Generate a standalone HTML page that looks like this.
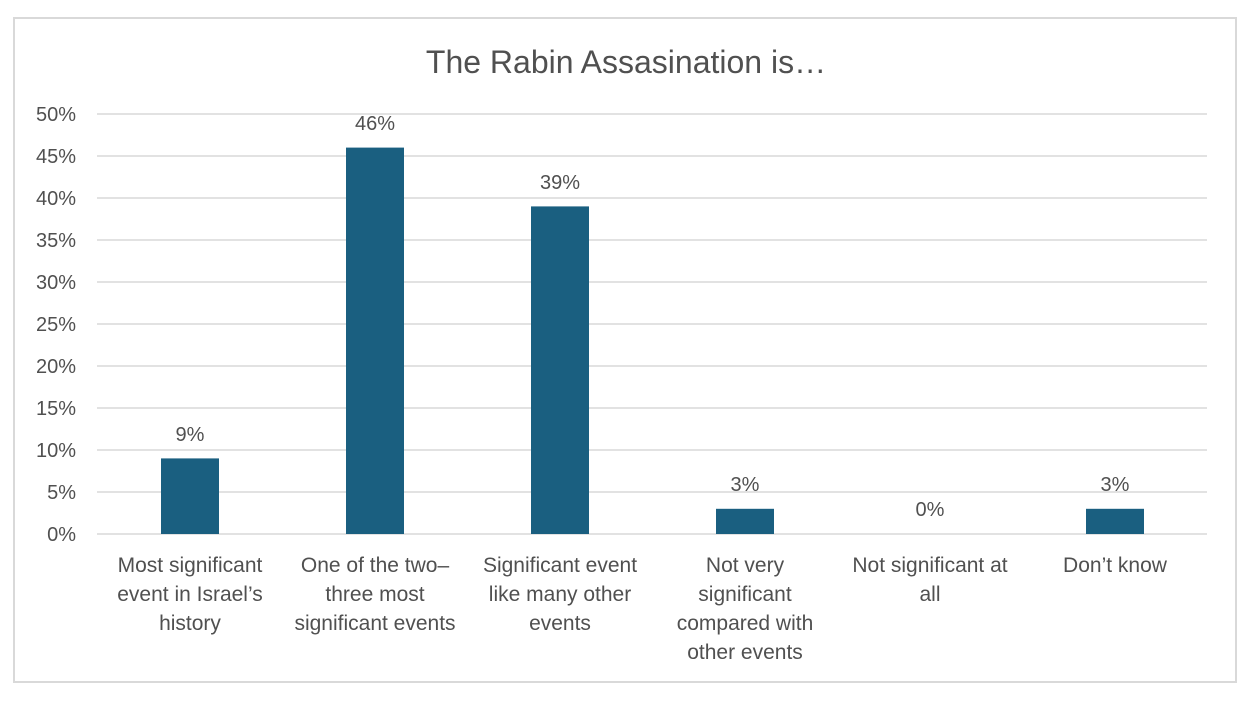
<!DOCTYPE html>
<html><head><style>
html,body{margin:0;padding:0;background:#fff;}
svg text{font-family:"Liberation Sans",sans-serif;fill:#505050;}
</style></head><body>
<svg width="1252" height="698" xmlns="http://www.w3.org/2000/svg">
<rect x="14" y="18" width="1222" height="664" fill="#fff" stroke="#d9d9d9" stroke-width="2"/>
<text x="626" y="73" font-size="32" text-anchor="middle">The Rabin Assasination is…</text>
<g stroke="#d9d9d9" stroke-width="1.5">
<line x1="97" x2="1207" y1="114" y2="114"/><line x1="97" x2="1207" y1="156" y2="156"/>
<line x1="97" x2="1207" y1="198" y2="198"/><line x1="97" x2="1207" y1="240" y2="240"/>
<line x1="97" x2="1207" y1="282" y2="282"/><line x1="97" x2="1207" y1="324" y2="324"/>
<line x1="97" x2="1207" y1="366" y2="366"/><line x1="97" x2="1207" y1="408" y2="408"/>
<line x1="97" x2="1207" y1="450" y2="450"/><line x1="97" x2="1207" y1="492" y2="492"/>
<line x1="97" x2="1207" y1="534" y2="534"/>
</g>
<g font-size="20" text-anchor="end">
<text x="76" y="121">50%</text><text x="76" y="163">45%</text><text x="76" y="205">40%</text>
<text x="76" y="247">35%</text><text x="76" y="289">30%</text><text x="76" y="331">25%</text>
<text x="76" y="373">20%</text><text x="76" y="415">15%</text><text x="76" y="457">10%</text>
<text x="76" y="499">5%</text><text x="76" y="541">0%</text>
</g>
<g fill="#1a5f80">
<rect x="161" y="458.4" width="58" height="75.6"/>
<rect x="346" y="147.6" width="58" height="386.4"/>
<rect x="531" y="206.4" width="58" height="327.6"/>
<rect x="716" y="508.8" width="58" height="25.2"/>
<rect x="1086" y="508.8" width="58" height="25.2"/>
</g>
<g font-size="20" text-anchor="middle">
<text x="190" y="441">9%</text><text x="375" y="130">46%</text><text x="560" y="189">39%</text>
<text x="745" y="491">3%</text><text x="930" y="516">0%</text><text x="1115" y="491">3%</text>
</g>
<g font-size="21" text-anchor="middle">
<text x="190" y="572">Most significant</text><text x="190" y="601">event in Israel’s</text><text x="190" y="630">history</text>
<text x="375" y="572">One of the two–</text><text x="375" y="601">three most</text><text x="375" y="630">significant events</text>
<text x="560" y="572">Significant event</text><text x="560" y="601">like many other</text><text x="560" y="630">events</text>
<text x="745" y="572">Not very</text><text x="745" y="601">significant</text><text x="745" y="630">compared with</text><text x="745" y="659">other events</text>
<text x="930" y="572">Not significant at</text><text x="930" y="601">all</text>
<text x="1115" y="572">Don’t know</text>
</g>
</svg>
</body></html>
